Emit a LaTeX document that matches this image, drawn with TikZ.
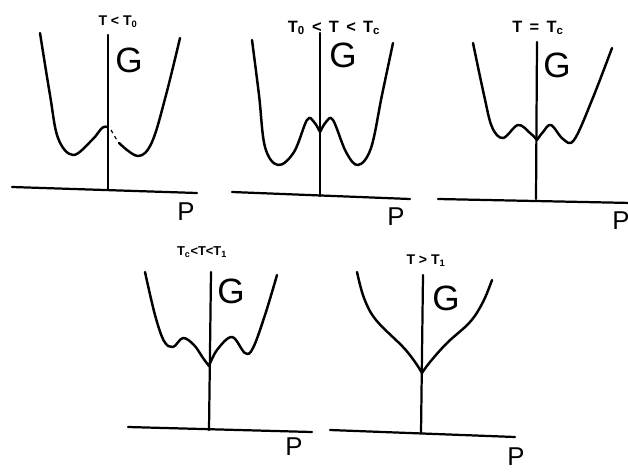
\documentclass[tikz,border=0pt]{standalone}
\usepackage{fontspec}
\setmainfont{Liberation Sans}
\usetikzlibrary{positioning}

\begin{document}
\begin{tikzpicture}[
    x=0.03cm, y=-0.03cm,
    axis/.style={line width=1.9pt, line cap=round},
    curve/.style={line width=2.1pt, line cap=round, line join=round},
    temp/.style={font=\fontsize{12}{12}\selectfont\bfseries},
    glabel/.style={font=\fontsize{30}{30}\selectfont},
    plabel/.style={font=\fontsize{22}{22}\selectfont}
]
\useasboundingbox (0,0) rectangle (628,475);

% panel 1
\coordinate (v1t) at (108,35);
\coordinate (v1b) at (108,189);
\coordinate (h1l) at (12,187);
\coordinate (h1r) at (197,193);
\draw[axis] (v1b) -- (v1t);
\draw[axis] (h1l) -- (h1r);
\node[temp]   (t1) at (118,22) {T < T\textsubscript{0}};
\node[glabel] (g1) at (129,60) {G};
\node[plabel] (p1) at (186,212) {P};
\draw[curve] plot[smooth, tension=0.6] coordinates
    {(40,33) (50,95) (58,138) (73,155) (92,140) (102,128) (107,127)};
\draw[line width=1pt, dashed] (111,130) -- (118,142);
\draw[curve] plot[smooth, tension=0.6] coordinates
    {(119,143) (138,156) (152,142) (166,95) (180,38)};

% panel 2
\coordinate (v2t) at (320,33);
\coordinate (v2b) at (320,196);
\coordinate (h2l) at (232,192);
\coordinate (h2r) at (410,199);
\draw[axis] (v2b) -- (v2t);
\draw[axis] (h2l) -- (h2r);
\node[temp, font=\fontsize{14}{14}\selectfont\bfseries] (t2) at (334,28)
    {T\textsubscript{0} \,<\, T \,<\, T\textsubscript{c}};
\node[glabel] (g2) at (343,55) {G};
\node[plabel] (p2) at (396,217) {P};
\draw[curve] plot[smooth, tension=0.6] coordinates
    {(252,40) (259,95) (265,147) (278,165) (294,152) (307,120) (314,122) (320,132)};
\draw[curve] plot[smooth, tension=0.6] coordinates
    {(320,132) (326,122) (333,120) (346,152) (358,165) (371,148) (382,95) (393,43)};

% panel 3
\coordinate (v3t) at (537,42);
\coordinate (v3b) at (536,199);
\coordinate (h3l) at (438,199);
\coordinate (h3r) at (632,203);
\draw[axis] (v3b) -- (v3t);
\draw[axis] (h3l) -- (h3r);
\node[temp, font=\fontsize{14}{14}\selectfont\bfseries] (t3) at (538,28)
    {T \,=\, T\textsubscript{c}};
\node[glabel] (g3) at (557,65) {G};
\node[plabel] (p3) at (621,221) {P};
\draw[curve] plot[smooth, tension=0.6] coordinates
    {(473,43) (484,95) (492,127) (503,138) (518,125) (530,133) (537,140)};
\draw[curve] plot[smooth, tension=0.6] coordinates
    {(537,140) (543,132) (551,125) (563,139) (574,140) (592,100) (612,48)};

% panel 4
\coordinate (v4t) at (211,272);
\coordinate (v4b) at (209,430);
\coordinate (h4l) at (128,427);
\coordinate (h4r) at (312,432);
\draw[axis] (v4b) -- (v4t);
\draw[axis] (h4l) -- (h4r);
\node[temp, font=\fontsize{11}{11}\selectfont\bfseries] (t4) at (202,252)
    {T\textsubscript{c}<T<T\textsubscript{1}};
\node[glabel] (g4) at (231,291) {G};
\node[plabel] (p4) at (294,447) {P};
\draw[curve] plot[smooth, tension=0.6] coordinates
    {(145,272) (155,315) (164,341) (173,347) (183,338) (194,345) (203,358) (209,366)};
\draw[curve] plot[smooth, tension=0.6] coordinates
    {(209,366) (217,350) (232,337) (245,353) (253,348) (265,315) (277,275)};

% panel 5
\coordinate (v5t) at (423,275);
\coordinate (v5b) at (421,433);
\coordinate (h5l) at (330,430);
\coordinate (h5r) at (515,437);
\draw[axis] (v5b) -- (v5t);
\draw[axis] (h5l) -- (h5r);
\node[temp] (t5) at (426,261) {T > T\textsubscript{1}};
\node[glabel] (g5) at (446,298) {G};
\node[plabel] (p5) at (516,457) {P};
\draw[curve] plot[smooth, tension=0.6] coordinates
    {(357,272) (364,298) (376,320) (403,347) (415,362) (422,373)};
\draw[curve] plot[smooth, tension=0.6] coordinates
    {(422,373) (430,362) (447,343) (470,322) (483,302) (492,280)};
\end{tikzpicture}
\end{document}
